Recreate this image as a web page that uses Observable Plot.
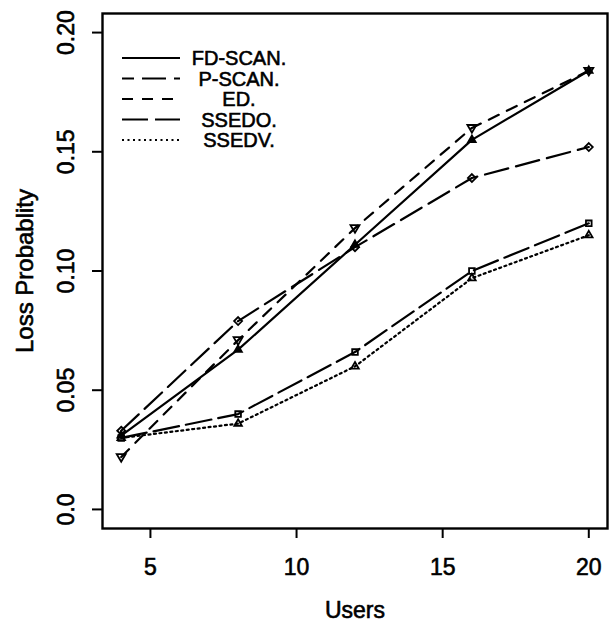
<!DOCTYPE html>
<html><head><meta charset="utf-8">
<script src="https://cdn.jsdelivr.net/npm/d3@7"></script>
<script src="https://cdn.jsdelivr.net/npm/@observablehq/plot@0.6"></script>
<style>
body{margin:0;background:#fff;}
svg text{font-family:"Liberation Sans",Arial,sans-serif;stroke:#000;stroke-width:0.6px;}
</style></head><body><div id="chart"></div>
<script>
const users = [4, 8, 12, 16, 20];
const seriesNames = ["FD-SCAN.", "P-SCAN.", "ED.", "SSEDO.", "SSEDV."];
const fdScan = [0.031, 0.067, 0.111, 0.155, 0.184];
const pScan  = [0.033, 0.079, 0.110, 0.139, 0.152];
const ed     = [0.022, 0.071, 0.118, 0.160, 0.184];
const ssedo  = [0.030, 0.040, 0.066, 0.100, 0.120];
const ssedv  = [0.030, 0.036, 0.060, 0.097, 0.115];
const xTicks = [5, 10, 15, 20];
const yTicks = [0, 0.05, 0.10, 0.15, 0.20];
const yTickLabels = ["0.0", "0.05", "0.10", "0.15", "0.20"];
const xLabel = "Users";
const yLabel = "Loss Probablity";

const allSeries = [fdScan, pScan, ed, ssedo, ssedv];
const rows = allSeries.flatMap((vals, i) => vals.map((v, j) => ({series: seriesNames[i], x: users[j], y: v})));

const dashes = ["none", "24,8", "11,9", "26,7", "2,3.5"];
const offsets = [0, 12, 0, 0, 0];

function triDownSym(){ return {draw(ctx, size){ const r = Math.sqrt(size/Math.PI)*1.25; ctx.moveTo(-r, -r*0.65); ctx.lineTo(r, -r*0.65); ctx.lineTo(0, r*1.05); ctx.closePath(); }}; }
const symbols = ["triangle2", "diamond2", triDownSym(), "square2", "triangle2"];
const fills = ["#000", "none", "none", "none", "none"];

function legendMark(index, scales, values, dimensions) {
  const g = d3.create("svg:g");
  const x0 = dimensions.marginLeft + 20, x1 = x0 + 58, tx = dimensions.marginLeft + 137;
  const y0 = dimensions.marginTop + 45, dy = 20.5;
  seriesNames.forEach((name, i) => {
    const y = y0 + i * dy;
    g.append("line").attr("x1", x0).attr("x2", x1).attr("y1", y).attr("y2", y)
      .attr("stroke", "#000").attr("stroke-width", 2.2)
      .attr("stroke-dasharray", dashes[i]).attr("stroke-dashoffset", offsets[i]);
    g.append("text").attr("x", tx).attr("y", y).attr("text-anchor", "middle")
      .attr("dy", "0.36em").attr("font-size", 20).attr("fill", "#000").text(name);
  });
  return g.node();
}

const marks = [];
seriesNames.forEach((name, i) => {
  const data = rows.filter(d => d.series === name);
  marks.push(Plot.line(data, {x: "x", y: "y", stroke: "#000", strokeWidth: 2.2, strokeDasharray: dashes[i]}));
  marks.push(Plot.dot(data, {x: "x", y: "y", symbol: () => symbols[i], r: 3.6, stroke: "#000", strokeWidth: 1.8, fill: fills[i]}));
});

const chart = Plot.plot({
  width: 615,
  height: 624,
  marginLeft: 102,
  marginRight: 8,
  marginTop: 13,
  marginBottom: 96,
  style: {background: "#fff", fontFamily: "Liberation Sans, Arial, sans-serif", overflow: "visible"},
  x: {domain: [3.36, 20.64]},
  y: {domain: [-0.008, 0.208]},
  symbol: {type: "identity"},
  marks: [
    Plot.axisX({ticks: xTicks, tickSize: 10, tickFormat: () => "", label: null, strokeWidth: 2}),
    Plot.axisY({ticks: yTicks, tickSize: 10, tickFormat: () => "", label: null, strokeWidth: 2}),
    Plot.text(xTicks, {x: d => d, frameAnchor: "bottom", dy: 39, lineAnchor: "middle", text: d => String(d), fontSize: 23, fill: "#000"}),
    Plot.text(yTicks, {y: d => d, frameAnchor: "left", dx: -36, rotate: -90, textAnchor: "middle", lineAnchor: "middle", text: (d, i) => yTickLabels[i], fontSize: 23, fill: "#000"}),
    Plot.text([xLabel], {frameAnchor: "bottom", dy: 82, lineAnchor: "middle", textAnchor: "middle", text: d => d, fontSize: 23, fill: "#000"}),
    Plot.text([yLabel], {frameAnchor: "left", dx: -77, rotate: -90, textAnchor: "middle", lineAnchor: "middle", text: d => d, fontSize: 24, fill: "#000"}),
    ...marks,
    Plot.frame({stroke: "#000", strokeWidth: 2.4}),
    legendMark
  ]
});
document.getElementById("chart").appendChild(chart);
</script></body></html>
